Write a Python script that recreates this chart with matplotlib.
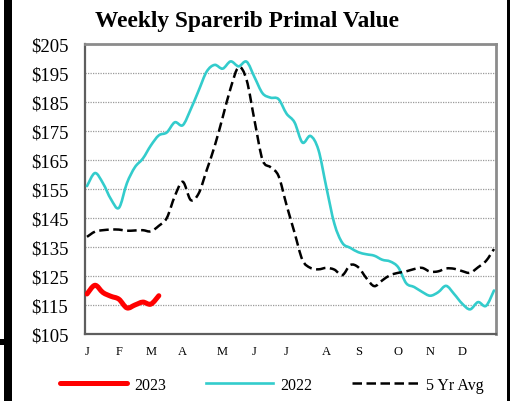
import numpy as np
import matplotlib
matplotlib.use("Agg")
import matplotlib.pyplot as plt
from matplotlib.path import Path
from matplotlib.patches import PathPatch, Rectangle
from matplotlib.lines import Line2D

# ---------------- data ----------------
weeks = np.arange(52)
y2023 = [118.8, 121.8, 119.3, 118, 117.0, 114, 115, 116, 115.3, 118.2]
y2022 = [156, 160.5, 157, 151.5, 148.5, 157, 162.5, 165.5, 170, 173.5,
         174.5, 178, 177, 182.5, 189, 195.5, 197.8, 196.5, 199, 197.3,
         198.9, 193.5, 188, 186.5, 186, 181, 178, 171, 173.3, 168.5,
         155.5, 143, 136.4, 134.7, 133.2, 132.5, 132, 130.6, 130, 128,
         122.5, 121.2, 119.5, 118.2, 119.4, 121.6, 118.8, 115.5, 113.5, 116,
         114.7, 120]
yavg = [138.5, 140.3, 140.8, 141, 141, 140.6, 140.7, 140.8, 140.4, 142.3,
        145, 152.5, 157.5, 151.2, 153.5, 161.5, 169.8, 179.7, 189.8, 197,
        192.6, 178.5, 165, 162.5, 159.5, 149.5, 140, 130.5, 127.8, 127.3,
        127.8, 127.2, 125.3, 128.8, 128, 124.3, 121.5, 123.5, 125.3, 126.1,
        126.6, 127.4, 127.8, 126.5, 126.6, 127.6, 127.5, 126.7, 126.1, 128,
        130.2, 134.3]
month_pos = [0, 4, 8, 12, 17, 21, 25, 30, 34, 39, 43, 47]
month_labels = ["J", "F", "M", "A", "M", "J", "J", "A", "S", "O", "N", "D"]
yticks = list(range(105, 206, 10))
ytick_labels = ["$%d" % v for v in yticks]
series_names = ["2023", "2022", "5 Yr Avg"]

plt.rcParams['font.family'] = ['Liberation Serif', 'DejaVu Serif']

W, H = 513, 402
fig = plt.figure(figsize=(W / 100, H / 100), dpi=100)
fig.patch.set_facecolor("white")

L, R, T, B = 85, 496, 45, 335
ax = fig.add_axes([L / W, 1 - B / H, (R - L) / W, (B - T) / H])
ax.set_xlim(-0.25, 51.25)
ax.set_ylim(105, 205)


def smooth_path(x, y):
    pts = np.column_stack([np.asarray(x, float), np.asarray(y, float)])
    n = len(pts)
    verts = [pts[0]]
    codes = [Path.MOVETO]
    for i in range(n - 1):
        p0 = pts[i - 1] if i > 0 else pts[i]
        p1 = pts[i]
        p2 = pts[i + 1]
        p3 = pts[i + 2] if i + 2 < n else pts[i + 1]
        c1 = p1 + (p2 - p0) / 6.0
        c2 = p2 - (p3 - p1) / 6.0
        verts += [c1, c2, p2]
        codes += [Path.CURVE4] * 3
    return Path(verts, codes)


red_style = dict(edgecolor="#FF0000", lw=3.6, linestyle="-")
teal_style = dict(edgecolor="#33CCCC", lw=1.9, linestyle="-")
avg_style = dict(edgecolor="black", lw=1.8, linestyle=(0, (3.8, 1.8)))

ax.add_patch(PathPatch(smooth_path(weeks[:len(y2022)], y2022), fill=False,
                       capstyle="round", joinstyle="round", zorder=3, **teal_style))
ax.add_patch(PathPatch(smooth_path(weeks[:len(yavg)], yavg), fill=False,
                       capstyle="butt", joinstyle="round", zorder=4, **avg_style))
ax.add_patch(PathPatch(smooth_path(weeks[:len(y2023)], y2023), fill=False,
                       capstyle="round", joinstyle="round", zorder=5, **red_style))

# grid
ax.set_yticks(yticks)
ax.set_yticklabels(ytick_labels, fontsize=13.5)
ax.set_xticks(month_pos)
ax.set_xticklabels(month_labels, fontsize=9)
ax.tick_params(axis="y", length=0, pad=12)
ax.tick_params(axis="x", length=0, pad=8)
ax.yaxis.grid(True, linestyle=(0, (1, 1)), color="#9a9a9a", lw=0.9)
ax.xaxis.grid(False)
ax.set_axisbelow(True)

for s in ["left", "bottom"]:
    ax.spines[s].set_color("#5e5e5e")
    ax.spines[s].set_linewidth(1.6)
for s in ["top", "right"]:
    ax.spines[s].set_color("#8c8c8c")
    ax.spines[s].set_linewidth(2.0)

# title
fig.text(247 / W, 1 - 21 / H, "Weekly Sparerib Primal Value", ha="center",
         va="center", fontsize=16.8, fontweight="bold")

# legend
handles = [
    Line2D([], [], color="#FF0000", lw=3.6, solid_capstyle="round"),
    Line2D([], [], color="#33CCCC", lw=1.9),
    Line2D([], [], color="black", lw=1.8, linestyle=(0, (3.8, 1.8))),
]
fig.legend(handles, series_names, loc="center", bbox_to_anchor=(272 / W, 1 - 386 / H),
           ncol=3, frameon=False, fontsize=11.5, handlelength=4.2,
           handletextpad=0.45, columnspacing=2.5)

# border decorations from the original slide crop
fig.patches.append(Rectangle((4 / W, 0), 8 / W, 1, transform=fig.transFigure,
                             facecolor="black", edgecolor="none"))
fig.patches.append(Rectangle((0, 1 - 346 / H), 8 / W, 6 / H, transform=fig.transFigure,
                             facecolor="black", edgecolor="none"))
fig.patches.append(Rectangle((507 / W, 0), 3 / W, 1, transform=fig.transFigure,
                             facecolor="black", edgecolor="none"))

fig.savefig("out.png", dpi=100)
